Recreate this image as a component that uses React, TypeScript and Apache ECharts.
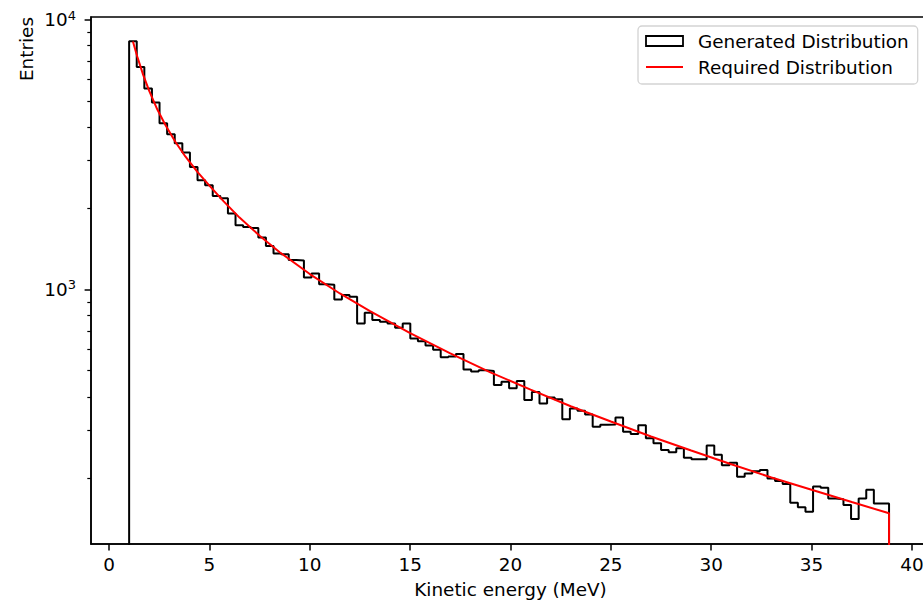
import React, { useEffect, useRef } from "react";
import * as echarts from "echarts";

// ---- data ----
const HIST_RANGE = [1, 38.86]; // MeV, 100 equal bins
const generatedCounts = [
  8310, 6670, 5550, 4930, 4130, 3760, 3480, 3220, 2845, 2540,
  2435, 2220, 2175, 1910, 1730, 1705, 1690, 1557, 1448, 1360,
  1350, 1285, 1280, 1108, 1146, 1046, 1040, 918, 953, 939,
  748, 819, 770, 759, 748, 721, 748, 658, 642, 620,
  598, 560, 564, 576, 505, 496, 502, 499, 442, 455,
  430, 458, 389, 417, 378, 398, 392, 330, 362, 355,
  344, 310, 315, 316, 335, 297, 291, 314, 281, 269,
  254, 249, 258, 238, 235, 235, 264, 244, 223, 228,
  202, 208, 212, 214, 199, 195, 190, 162, 156, 150,
  186, 184, 168, 167, 159, 141, 168, 181, 161, 161,
];
const requiredEnergy = [
  1.19, 1.4, 1.7, 2.0, 2.4, 2.8, 3.3, 3.8, 4.4, 5.0,
  5.7, 6.5, 7.5, 8.5, 10, 11.5, 13, 15, 17, 19,
  21, 23, 25, 27, 29, 31, 33, 35, 37, 38.86, 38.86,
];
const requiredCounts = [
  8300, 7310, 6240, 5440, 4650, 4075, 3525, 3110, 2725, 2425,
  2125, 1846, 1581, 1374, 1140, 966, 831, 689, 579, 493,
  425, 369, 324, 285, 253, 225, 201, 181, 163, 148, 0,
];
const xTicks = [0, 5, 10, 15, 20, 25, 30, 35, 40];
const yMajorTicks = [1000, 10000];
const yMinorTicks = [200, 300, 400, 500, 600, 700, 800, 900, 2000, 3000, 4000, 5000, 6000, 7000, 8000, 9000];
const X_MIN = -0.9;
const X_MAX = 40.9;
const Y_MIN = 113.9;
const Y_MAX = 10223;
const seriesNames = ["Generated Distribution", "Required Distribution"];
const xTitle = "Kinetic energy (MeV)";
const yTitle = "Entries";

const FONT = "DejaVu Sans";
const FS = 18.4;
const FLOOR = 0; // log value far below the axis minimum (count of zero)
const toLog = (v: number) => (v > 0 ? Math.log10(v) : FLOOR);

const GRID = { left: 91, top: 17, width: 839, height: 527 };

export default function App() {
  const ref = useRef<HTMLDivElement>(null);
  useEffect(() => {
    document.body.style.margin = "0";
    if (!ref.current) return;
    const chart = echarts.init(ref.current, undefined, { renderer: "svg" });

    const n = generatedCounts.length;
    const w = (HIST_RANGE[1] - HIST_RANGE[0]) / n;
    const histData: number[][] = [[HIST_RANGE[0], FLOOR]];
    generatedCounts.forEach((c, i) => histData.push([HIST_RANGE[0] + i * w, toLog(c)]));
    histData.push([HIST_RANGE[1], toLog(generatedCounts[n - 1])]);
    histData.push([HIST_RANGE[1], FLOOR]);

    const reqData = requiredEnergy.map((x, i) => [x, toLog(requiredCounts[i])]);

    const yMin = Math.log10(Y_MIN);
    const yMax = Math.log10(Y_MAX);

    chart.setOption({
      animation: false,
      textStyle: { fontFamily: FONT },
      grid: {
        ...GRID,
        containLabel: false,
        outerBoundsMode: "none",
        show: true,
        borderColor: "#000",
        borderWidth: 1.5,
        backgroundColor: "transparent",
      },
      xAxis: {
        type: "value",
        min: X_MIN,
        max: X_MAX,
        axisLine: { show: true, onZero: false, lineStyle: { color: "#000", width: 1.5 } },
        axisTick: { show: true, customValues: xTicks, length: 6.4, lineStyle: { color: "#000", width: 1.5 } },
        axisLabel: { customValues: xTicks, fontSize: FS, color: "#000", fontFamily: FONT, margin: 11 },
        splitLine: { show: false },
      },
      yAxis: [
        {
          type: "value",
          min: yMin,
          max: yMax,
          axisLine: { show: true, onZero: false, lineStyle: { color: "#000", width: 1.5 } },
          axisTick: {
            show: true,
            customValues: yMajorTicks.map(Math.log10),
            length: 6.4,
            lineStyle: { color: "#000", width: 1.5 },
          },
          axisLabel: {
            customValues: yMajorTicks.map(Math.log10),
            margin: 15,
            formatter: (v: number) => `{b|10}{s|${Math.round(v)}}`,
            rich: {
              b: { fontSize: FS, fontFamily: FONT, color: "#000", lineHeight: 22 },
              s: { fontSize: 13, fontFamily: FONT, color: "#000", verticalAlign: "top", lineHeight: 13 },
            },
          },
          splitLine: { show: false },
        },
        {
          type: "value",
          position: "right",
          offset: -GRID.width,
          min: yMin,
          max: yMax,
          axisLine: { show: false, onZero: false },
          axisTick: {
            show: true,
            inside: true,
            customValues: yMinorTicks.map(Math.log10),
            length: 3.7,
            lineStyle: { color: "#000", width: 1.2 },
          },
          axisLabel: { show: false },
          splitLine: { show: false },
        },
      ],
      legend: {
        orient: "vertical",
        left: 638,
        top: 26,
        align: "left",
        padding: [6, 9, 8, 7],
        itemGap: 8,
        itemWidth: 37,
        itemHeight: 10,
        backgroundColor: "#fff",
        borderColor: "#d3d3d3",
        borderWidth: 1.3,
        borderRadius: 4,
        textStyle: { fontSize: FS, color: "#000", fontFamily: FONT, padding: [0, 0, 0, 10] },
        data: [
          { name: seriesNames[0], icon: "rect", itemStyle: { color: "#fff", borderColor: "#000", borderWidth: 1.8 } },
          { name: seriesNames[1], itemStyle: { color: "rgba(0,0,0,0)", borderWidth: 0, opacity: 0 } },
        ],
      },
      series: [
        {
          name: seriesNames[0],
          type: "line",
          step: "end",
          data: histData,
          symbol: "none",
          clip: true,
          color: "#000",
          lineStyle: { color: "#000", width: 2 },
          z: 2,
        },
        {
          name: seriesNames[1],
          type: "line",
          data: reqData,
          symbol: "none",
          clip: true,
          color: "#ff0000",
          lineStyle: { color: "#ff0000", width: 2 },
          z: 3,
        },
      ],
      graphic: [
        {
          type: "text",
          x: GRID.left + GRID.width / 2,
          y: 589,
          style: { text: xTitle, fontSize: FS, fontFamily: FONT, fill: "#000", align: "center", verticalAlign: "middle" },
        },
        {
          type: "text",
          x: 26,
          y: 17,
          rotation: Math.PI / 2,
          style: { text: yTitle, fontSize: FS, fontFamily: FONT, fill: "#000", align: "right", verticalAlign: "middle" },
        },
      ],
    });
    return () => chart.dispose();
  }, []);
  return <div ref={ref} style={{ width: 923, height: 601 }} />;
}
